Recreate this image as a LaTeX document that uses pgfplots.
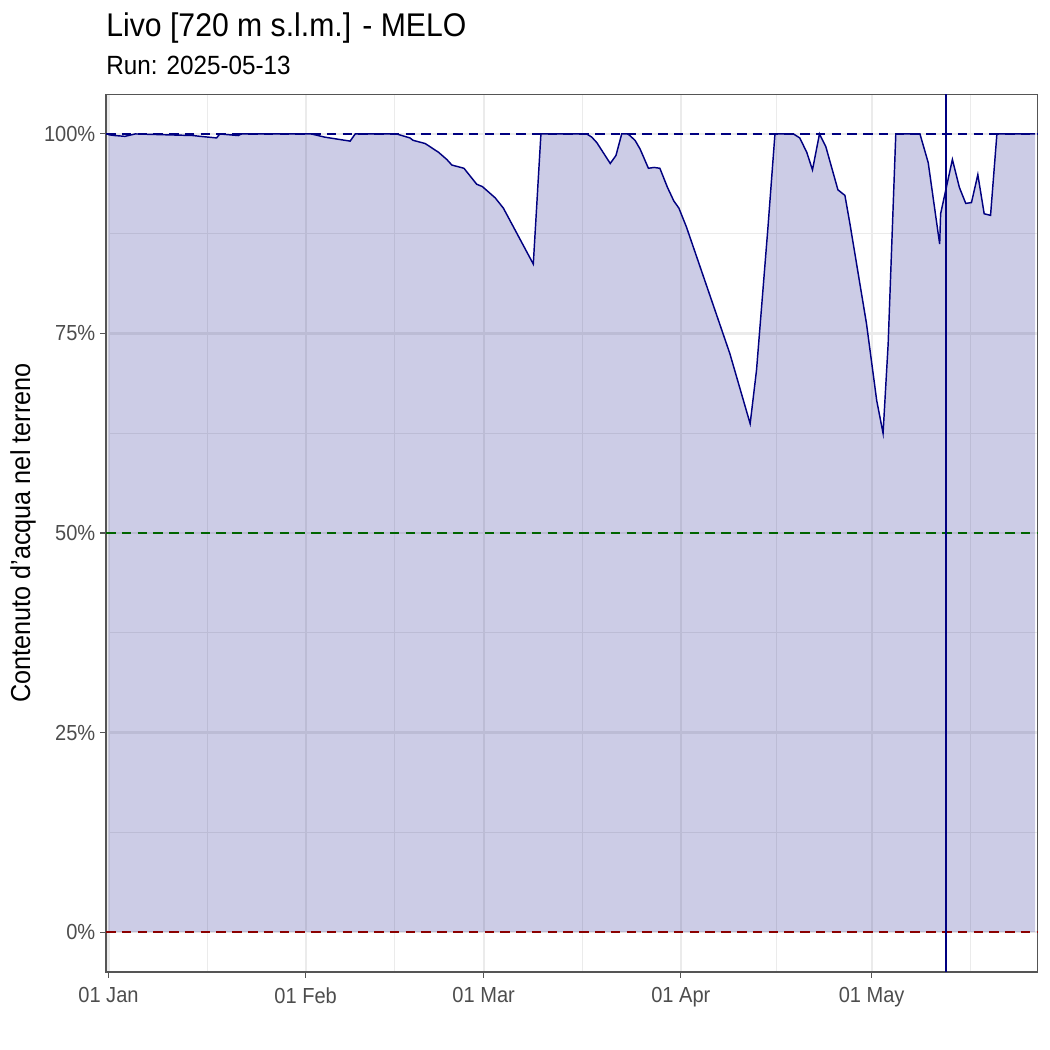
\documentclass[border=0pt]{standalone}
\usepackage{fontspec}
\setmainfont[FakeStretch=0.92]{Liberation Sans}
\usepackage{pgfplots}
\usepackage{pgfplotstable}
\pgfplotsset{compat=1.18}
\definecolor{navyc}{HTML}{000080}
\definecolor{dgreen}{HTML}{006400}
\definecolor{dred}{HTML}{8B0000}
\definecolor{grey92}{HTML}{EBEBEB}
\definecolor{grey20}{HTML}{555555}
\definecolor{grey30}{HTML}{4D4D4D}
\pgfplotstableread{
day val
0 99.9
1.0 99.8
2.6 99.7
4.2 100
13.3 99.8
14.4 99.7
17.0 99.5
17.5 100
20.4 99.8
20.9 100
31.9 100
34.0 99.6
37.2 99.2
38.0 99.1
38.8 100
45.3 100
47.4 99.5
47.9 99.2
49.8 98.8
51.9 97.7
53.2 96.8
54.0 96.1
55.9 95.7
57.9 93.7
58.8 93.4
60.8 92.0
62.1 90.7
66.8 83.7
68.0 100
75.2 100
76.0 99.6
76.8 98.9
78.9 96.3
79.8 97.3
80.7 100
81.7 100
82.8 99.2
83.6 98.1
84.9 95.7
85.8 95.8
86.7 95.7
87.9 93.3
88.9 91.6
89.7 90.7
90.9 88.3
97.7 72.5
100.9 63.7
101.9 70.4
103.7 88.3
104.8 100
107.7 100
108.7 99.5
109.8 97.7
110.7 95.5
111.8 100
112.8 98.4
114.7 93.0
115.8 92.3
116.6 88.7
119.2 76.2
120.8 66.6
121.8 62.5
122.6 73.7
123.8 100
127.6 100
128.9 96.4
130.7 86.2
130.85 90.0
132.7 96.8
133.8 93.3
134.8 91.3
135.7 91.4
136.7 94.9
137.7 90.0
138.7 89.8
139.7 100
145.7 100
}\soildata
\begin{document}
\begin{tikzpicture}
\path[use as bounding box] (-51.07pt,-37.58pt) rectangle (454.82pt,468.31pt);
\begin{axis}[
  at={(0pt,0pt)}, anchor=south west,
  scale only axis, width=449.0pt, height=423.0pt,
  xmin=-0.39, xmax=146.15, ymin=-5, ymax=105,
  axis line style={draw=grey20, line width=0.5pt},
  tick align=outside, tick pos=left,
  major tick length=2.75pt, minor tick length=0pt,
  tick style={grey20, line width=0.5pt},
  xtick={0,31,59,90,120},
  xticklabels={01 Jan,01 Feb,01 Mar,01 Apr,01 May},
  minor xtick={15.5,45,74.5,105,135.5},
  ytick={0,25,50,75,100},
  yticklabels={0\%,25\%,50\%,75\%,100\%},
  minor ytick={12.5,37.5,62.5,87.5},
  grid=both,
  major grid style={grey92, line width=1.07pt},
  minor grid style={grey92, line width=0.53pt},
  ticklabel style={font=\fontsize{10.5}{12}\selectfont, text=grey30},
  xticklabel style={inner sep=0pt, yshift=-4.5pt},
  yticklabel style={inner sep=0pt, xshift=-2.2pt},
  clip=true,
]
\addplot[draw=none, fill=navyc, fill opacity=0.2] table[x=day, y=val] {\soildata} \closedcycle;
\addplot[navyc, line width=0.7pt] table[x=day, y=val] {\soildata};
\addplot[navyc, line width=1.07pt, dash pattern=on 4.6pt off 3.0pt] coordinates {(-0.39,100) (146.15,100)};
\addplot[dgreen, line width=1.07pt, dash pattern=on 4.6pt off 3.0pt] coordinates {(-0.39,50) (146.15,50)};
\addplot[dred, line width=1.07pt, dash pattern=on 4.6pt off 3.0pt] coordinates {(-0.39,0) (146.15,0)};
\addplot[navyc, line width=1.07pt] coordinates {(131.7,-5) (131.7,105)};
\end{axis}
\node[anchor=base west, inner sep=0pt, font=\fontsize{15.8}{19}\selectfont] at (0pt,450.6pt) {Livo [720 m s.l.m.] - MELO};
\node[anchor=base west, inner sep=0pt, font=\fontsize{12.7}{15}\selectfont] at (0pt,432.2pt) {Run: 2025-05-13};
\node[rotate=90, inner sep=0pt, font=\fontsize{13.2}{16}\selectfont] at (-40.0pt,211.5pt) {Contenuto d'acqua nel terreno};
\end{tikzpicture}
\end{document}
